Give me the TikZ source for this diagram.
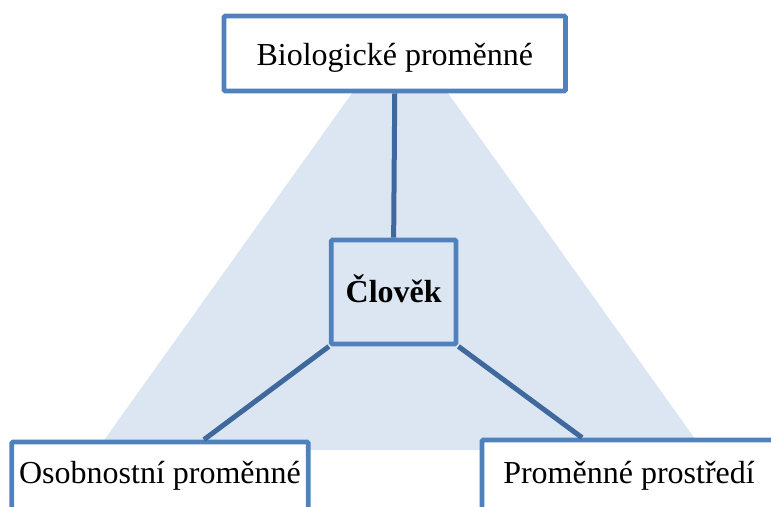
\documentclass[tikz,border=0pt]{standalone}
\usepackage{fontspec}
\setmainfont{Liberation Serif}
\definecolor{boxline}{HTML}{4F81BD}
\definecolor{conline}{HTML}{3F689C}
\definecolor{trifill}{HTML}{DCE6F2}
\begin{document}
\begin{tikzpicture}[x=1pt,y=-1pt,
  box/.style={draw=boxline, line width=4.8pt, rounded corners=1.2pt, inner sep=0pt, font=\fontsize{32}{36}\selectfont, anchor=center},
  conn/.style={draw=conline, line width=5pt}]
\useasboundingbox (0,0) rectangle (771,506);
% background triangle
\fill[trifill] (400,26) -- (97,450) -- (703,450) -- cycle;
% boxes
\node[box, fill=white, minimum width=341.5pt, minimum height=75pt, text height=25pt, text depth=1pt] (top) at (394.75,53.5) {Biologické proměnné};
\node[box, minimum width=124.7pt, minimum height=104pt, text height=22pt, text depth=2pt, font=\fontsize{32}{36}\selectfont\bfseries] (center) at (393.65,292) {Člověk};
\node[box, fill=white, minimum width=296.6pt, minimum height=70pt, text height=20pt, text depth=7pt] (bl) at (160,477) {Osobnostní proměnné};
\node[box, fill=white, minimum width=294pt, minimum height=72pt, text height=21pt, text depth=6pt] (br) at (629,476) {Proměnné prostředí};
% connectors
\coordinate (blt) at ([xshift=44pt]bl.north);
\coordinate (brt) at ([xshift=-47pt]br.north);
\draw[conn] (top.south) -- (center.north);
\draw[conn] (center.south west) -- (blt);
\draw[conn] (center.south east) -- (brt);
\end{tikzpicture}
\end{document}
